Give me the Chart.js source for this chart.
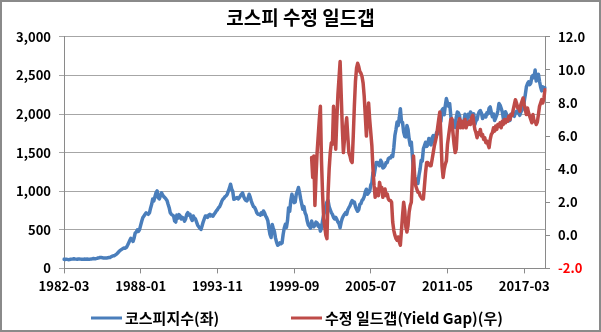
<!DOCTYPE html>
<html>
<head>
<meta charset="utf-8">
<script src="https://cdn.jsdelivr.net/npm/chart.js@4/dist/chart.umd.min.js"></script>
<style>
  html, body { margin: 0; padding: 0; background: #fff; }
  #wrap { width: 601px; height: 332px; position: relative; }
</style>
</head>
<body>
<div id="wrap"><canvas id="myChart" width="601" height="332"></canvas></div>
<script>
'use strict';

// monthly series, 1982-03 .. 2018-10
let firstMonth = [1982, 3];
let gapFirstMonth = [2001, 1];

let kospi = [
  118, 115, 120, 117, 113, 115, 118, 120, 122, 125, // 1982 (Mar-Dec)
  122, 120, 118, 121, 123, 120, 118, 117, 119, 121, 120, 121,
  118, 117, 120, 123, 125, 128, 124, 126, 130, 135, 138, 142,
  140, 138, 136, 135, 134, 136, 138, 140, 142, 150, 158, 163,
  165, 175, 185, 200, 215, 230, 240, 250, 260, 265, 262, 272,
  300, 330, 360, 390, 370, 350, 395, 460, 470, 500, 480, 505,
  560, 613, 660, 680, 700, 720, 710, 700, 720, 780, 830, 900, // 1988
  874, 930, 980, 1004, 917, 900, 940, 978, 950, 930, 917, 900,
  880, 830, 786, 720, 700, 690, 680, 613, 600, 690, 650, 696,
  680, 640, 660, 650, 613, 640, 700, 722, 690, 700, 650, 620,
  678, 650, 640, 600, 560, 540, 520, 505, 550, 600, 640, 678,
  678, 660, 690, 700, 680, 690, 678, 700, 720, 744, 760, 786,
  800, 830, 870, 896, 910, 930, 940, 961, 1000, 1040, 1091, 1030, // 1994
  1000, 896, 900, 910, 917, 900, 917, 940, 960, 978, 930, 900,
  880, 874, 910, 961, 920, 870, 830, 800, 790, 760, 720, 700,
  700, 690, 720, 700, 744, 720, 680, 656, 620, 520, 439, 400,
  570, 520, 480, 395, 340, 300, 309, 330, 320, 330, 440, 520,
  570, 530, 620, 786, 740, 880, 961, 900, 852, 860, 960, 1000,
  1048, 982, 900, 830, 765, 800, 720, 690, 613, 560, 548, 520, // 2000
  613, 560, 540, 560, 600, 590, 545, 560, 483, 520, 620, 690,
  740, 809, 860, 880, 800, 760, 722, 700, 660, 640, 660, 635,
  600, 580, 526, 600, 650, 680, 700, 722, 700, 760, 786, 810,
  850, 880, 852, 860, 800, 765, 740, 760, 830, 840, 880, 896,
  930, 990, 1026, 960, 980, 1000, 1080, 1110, 1243, 1200, 1290, 1373,
  1373, 1350, 1330, 1400, 1373, 1300, 1308, 1330, 1373, 1370, 1420, 1434, // 2006
  1430, 1460, 1450, 1560, 1721, 1800, 1895, 1850, 1950, 2069, 1900, 1890,
  1765, 1711, 1704, 1852, 1800, 1674, 1594, 1634, 1448, 1250, 1150, 1124,
  1156, 1100, 1206, 1286, 1400, 1390, 1548, 1591, 1634, 1580, 1600, 1682,
  1650, 1600, 1692, 1721, 1640, 1700, 1759, 1742, 1808, 1882, 1904, 2051,
  2069, 1990, 2106, 2200, 2142, 2100, 2133, 1980, 1820, 1917, 1860, 1826,
  1955, 2026, 2014, 1981, 1843, 1854, 1881, 1905, 1996, 1912, 1932, 1997, // 2012
  1961, 2026, 2005, 1963, 2001, 1863, 1914, 1926, 1996, 2030, 2044, 2011,
  1941, 1980, 1985, 1961, 2017, 2002, 2076, 2091, 2020, 1964, 2000, 1916,
  1949, 1985, 2041, 2135, 2114, 2074, 2030, 1941, 1963, 2029, 1991, 1961,
  1912, 1917, 1996, 1994, 1983, 1970, 2016, 2035, 2043, 2008, 1983, 2026,
  2050, 2080, 2160, 2250, 2351, 2392, 2417, 2380, 2400, 2482, 2500, 2470,
  2569, 2427, 2504, 2515, 2423, 2350, 2300, 2351, 2340, 2340 // 2018 (Jan-Oct)
];

let yieldGap = [
  4.7, 3.5, 4.8, 1.8, 3.5, 5.0, 6.0, 7.0, 7.8, 4.5, 2.5, 1.0, // 2001
  0.5, 0.0, -0.2, 2.5, 4.0, 5.0, 5.6, 5.5, 7.8, 6.8, 5.2, 7.0,
  8.5, 9.5, 10.5, 8.5, 6.5, 5.0, 5.8, 6.5, 7.1, 6.0, 5.0, 4.8,
  4.5, 4.4, 6.0, 7.8, 9.3, 10.1, 10.4, 10.2, 9.9, 9.8, 9.6, 9.2,
  8.4, 7.2, 6.0, 7.2, 8.0, 7.0, 6.2, 5.4, 4.0, 3.0, 2.3, 2.8,
  2.6, 2.4, 3.2, 2.8, 2.9, 2.3, 2.6, 2.8, 2.4, 2.5, 2.2, 2.1, // 2006
  2.1, 2.0, 0.8, 0.3, 0.0, -0.2, -0.3, -0.1, -0.4, -0.6, 0.3, 1.2,
  2.0, 1.5, 0.5, 0.2, 0.6, 1.4, 1.8, 2.0, 3.5, 4.8, 3.6, 3.0,
  2.8, 2.6, 2.6, 2.4, 2.3, 2.2, 2.2, 3.0, 3.8, 4.4, 4.4, 4.3,
  4.2, 4.2, 4.6, 5.0, 5.4, 5.7, 6.0, 6.5, 7.0, 7.45, 6.0, 4.2,
  3.5, 4.0, 4.3, 4.5, 5.5, 6.0, 6.5, 7.0, 7.05, 6.2, 5.5, 5.0,
  5.2, 6.4, 6.8, 7.05, 6.5, 6.9, 6.5, 6.8, 7.0, 6.5, 6.8, 6.7, // 2012
  6.9, 6.7, 7.1, 7.25, 6.8, 6.4, 6.2, 5.9, 6.2, 6.1, 6.4, 6.0,
  6.1, 5.8, 5.9, 5.6, 5.7, 5.5, 5.3, 5.8, 6.1, 6.2, 6.5, 6.3,
  6.6, 6.4, 6.7, 6.6, 6.8, 6.5, 6.9, 6.7, 7.0, 6.8, 7.0, 6.9,
  7.2, 7.0, 7.3, 7.25, 7.6, 7.9, 8.2, 8.0, 7.7, 7.8, 7.5, 7.9,
  8.1, 8.3, 7.9, 7.6, 7.3, 7.7, 7.4, 7.2, 7.0, 6.8, 7.3, 6.9,
  6.9, 6.7, 6.85, 7.3, 7.8, 8.0, 8.2, 8.0, 8.3, 8.8 // 2018
];

let leftTicks = [0, 500, 1000, 1500, 2000, 2500, 3000];
let rightTicks = [-2, 0, 2, 4, 6, 8, 10, 12];
let labelEvery = 70; // months between x labels

let seriesNames = ['코스피지수(좌)', '수정 일드갭(Yield Gap)(우)'];
let blue = '#4a7ebb';
let red = '#be4b48';

// month labels
let months = [];
for (let i = 0; i < kospi.length; i++) {
  let total = firstMonth[0] * 12 + (firstMonth[1] - 1) + i;
  let y = Math.floor(total / 12);
  let m = total % 12 + 1;
  months.push(y + '-' + (m < 10 ? '0' + m : m));
}

// yield gap only starts in 2001, pad the earlier months
let gapOffset = (gapFirstMonth[0] - firstMonth[0]) * 12 + (gapFirstMonth[1] - firstMonth[1]);
let gapData = [];
for (let i = 0; i < kospi.length; i++) {
  let j = i - gapOffset;
  gapData.push(j >= 0 && j < yieldGap.length ? yieldGap[j] : null);
}

let font = "'Noto Sans CJK KR', 'Noto Sans', sans-serif";

// white background + grey frame
let frame = {
  id: 'frame',
  beforeDraw(chart) {
    let ctx = chart.ctx;
    ctx.save();
    ctx.fillStyle = '#fff';
    ctx.fillRect(0, 0, chart.width, chart.height);
    ctx.strokeStyle = '#8a8a8a';
    ctx.lineWidth = 2;
    ctx.strokeRect(1, 1, chart.width - 2, chart.height - 2);
    ctx.restore();
  }
};

// legend along the bottom, two wide-spaced entries
let bottomLegend = {
  id: 'bottomLegend',
  afterDraw(chart) {
    let ctx = chart.ctx;
    let startX = [91, 291];
    let y = 318;
    ctx.save();
    ctx.font = 'bold 15px ' + font;
    ctx.textBaseline = 'middle';
    chart.data.datasets.forEach((ds, i) => {
      ctx.strokeStyle = ds.borderColor;
      ctx.lineWidth = 3;
      ctx.beginPath();
      ctx.moveTo(startX[i], y);
      ctx.lineTo(startX[i] + 31, y);
      ctx.stroke();
      ctx.fillStyle = '#000';
      ctx.fillText(ds.label, startX[i] + 34, y);
    });
    ctx.restore();
  }
};

let canvasElem = document.getElementById('myChart');

new Chart(canvasElem, {
  type: 'line',
  data: {
    labels: months,
    datasets: [{
      label: seriesNames[0],
      data: kospi,
      yAxisID: 'y',
      borderColor: blue,
      backgroundColor: blue,
      borderWidth: 3.5,
      borderJoinStyle: 'round',
      borderCapStyle: 'round',
      pointRadius: 0,
      order: 1
    },
    {
      label: seriesNames[1],
      data: gapData,
      yAxisID: 'y1',
      borderColor: red,
      backgroundColor: red,
      borderWidth: 3.5,
      borderJoinStyle: 'round',
      borderCapStyle: 'round',
      pointRadius: 0,
      order: 0
    }]
  },
  options: {
    responsive: false,
    animation: false,
    layout: { padding: { left: 0, right: 0, top: 2, bottom: 33 } },
    plugins: {
      title: {
        display: true,
        text: '코스피 수정 일드갭',
        color: '#000',
        font: { family: font, size: 19, weight: 'bold' },
        padding: { top: 4, bottom: 8 }
      },
      legend: { display: false },
      tooltip: { enabled: false }
    },
    scales: {
      x: {
        offset: false,
        grid: { display: true, drawOnChartArea: false, drawTicks: true, tickLength: 5, color: '#8a8a8a' },
        border: { display: true, color: '#8a8a8a' },
        ticks: {
          autoSkip: false,
          maxRotation: 0,
          color: '#000',
          padding: 5,
          font: { family: font, size: 13, weight: 'bold' },
          callback: function (v, i) {
            return i % labelEvery === 0 ? this.getLabelForValue(v) : null;
          }
        }
      },
      y: {
        position: 'left',
        min: leftTicks[0],
        max: leftTicks[leftTicks.length - 1],
        afterBuildTicks: s => { s.ticks = leftTicks.map(v => ({ value: v })); },
        afterFit: s => { s.width = 64; },
        grid: { color: '#a6a6a6', tickLength: 5 },
        border: { display: true, color: '#8a8a8a' },
        ticks: {
          color: '#000',
          padding: 8,
          font: { family: font, size: 13, weight: 'bold' },
          callback: v => v.toLocaleString('en-US')
        }
      },
      y1: {
        position: 'right',
        min: rightTicks[0],
        max: rightTicks[rightTicks.length - 1],
        afterBuildTicks: s => { s.ticks = rightTicks.map(v => ({ value: v })); },
        afterFit: s => { s.width = 56; },
        grid: { drawOnChartArea: false, tickLength: 5, color: '#8a8a8a' },
        border: { display: true, color: '#8a8a8a' },
        ticks: {
          color: c => (c.tick && c.tick.value < 0 ? '#ff0000' : '#000'),
          padding: 8,
          font: { family: font, size: 13, weight: 'bold' },
          callback: v => v.toFixed(1)
        }
      }
    }
  },
  plugins: [frame, bottomLegend]
});
</script>
</body>
</html>
